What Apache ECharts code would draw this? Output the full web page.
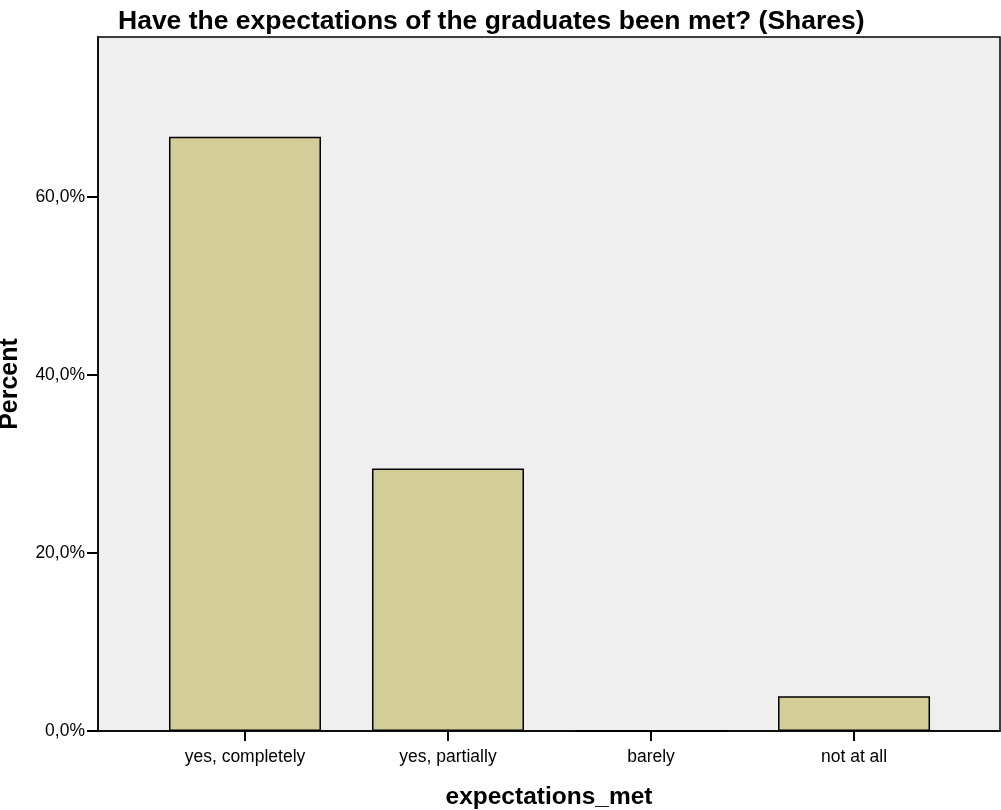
<!DOCTYPE html>
<html>
<head>
<meta charset="utf-8">
<script src="https://cdn.jsdelivr.net/npm/echarts@6/dist/echarts.min.js"></script>
<style>html,body{margin:0;padding:0;background:#fff;}#c{width:1001px;height:810px;}</style>
</head>
<body>
<div id="c"></div>
<script>
var categories = ['yes, completely', 'yes, partially', 'barely', 'not at all'];
var percentValues = [66.8, 29.5, 0, 3.9];
var yTicks = [0, 20, 40, 60];
var titleText = 'Have the expectations of the graduates been met? (Shares)';
var xName = 'expectations_met';
var yName = 'Percent';

var FONT = 'Arial, "Liberation Sans", sans-serif';
var chart = echarts.init(document.getElementById('c'), null, {renderer: 'canvas'});
var catIdx = categories.map(function (c, i) { return i; });
var barData = percentValues.map(function (v, i) { return [i, v]; });

chart.setOption({
  animation: false,
  backgroundColor: '#ffffff',
  title: {
    text: titleText,
    left: 113, top: 3,
    textStyle: {fontFamily: FONT, fontWeight: 'bold', fontSize: 26.5, color: '#000'}
  },
  grid: {
    left: 98, right: 1, top: 37, bottom: 79,
    outerBoundsMode: 'none', containLabel: false,
    show: true, backgroundColor: '#efefef', borderColor: '#000', borderWidth: 1.5
  },
  xAxis: {
    type: 'value',
    min: -0.724, max: 3.719,
    name: xName, nameLocation: 'middle', nameGap: 54,
    nameTextStyle: {fontFamily: FONT, fontWeight: 'bold', fontSize: 24.5, color: '#000'},
    splitLine: {show: false},
    axisLine: {show: true, onZero: false, lineStyle: {color: '#000', width: 1.5}},
    axisTick: {show: true, customValues: catIdx, length: 10, lineStyle: {color: '#000', width: 2}},
    axisLabel: {
      customValues: catIdx, margin: 17,
      fontFamily: FONT, fontSize: 17.5, color: '#000',
      formatter: function (v) { return categories[Math.round(v)]; }
    }
  },
  yAxis: {
    type: 'value',
    min: 0, max: 78,
    name: yName, nameLocation: 'middle', nameGap: 75, nameRotate: 90,
    nameTextStyle: {fontFamily: FONT, fontWeight: 'bold', fontSize: 25, color: '#000'},
    splitLine: {show: false},
    axisLine: {show: true, onZero: false, lineStyle: {color: '#000', width: 1.5}},
    axisTick: {show: true, customValues: yTicks, length: 11, lineStyle: {color: '#000', width: 2}},
    axisLabel: {
      customValues: yTicks, margin: 13,
      fontFamily: FONT, fontSize: 17.5, color: '#000',
      formatter: function (v) { return v.toFixed(1).replace('.', ',') + '%'; }
    }
  },
  series: [{
    type: 'bar',
    data: barData,
    barWidth: 152,
    itemStyle: {color: '#d3ce97', borderColor: '#000', borderWidth: 1.5}
  }]
});
</script>
</body>
</html>
